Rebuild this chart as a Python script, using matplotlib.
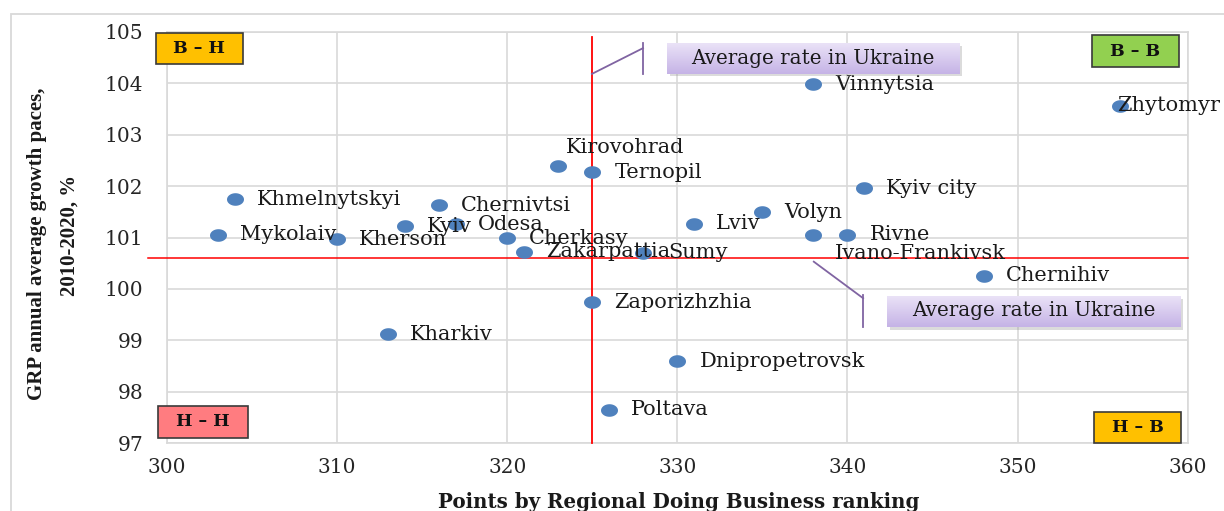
import matplotlib
matplotlib.use('Agg')
import matplotlib.pyplot as plt
import numpy as np
from matplotlib.path import Path
from matplotlib.patches import Rectangle
from matplotlib.colors import LinearSegmentedColormap

# ---------------- data ----------------
regions = ["Khmelnytskyi", "Mykolaiv", "Kherson", "Kyiv", "Chernivtsi", "Odesa",
           "Cherkasy", "Zakarpattia", "Kirovohrad", "Ternopil", "Sumy", "Lviv",
           "Volyn", "Vinnytsia", "Ivano-Frankivsk", "Rivne", "Kyiv city",
           "Chernihiv", "Zhytomyr", "Kharkiv", "Zaporizhzhia", "Dnipropetrovsk",
           "Poltava"]
business_points = [304, 303, 310, 314, 316, 317, 320, 321, 323, 325, 328, 331,
                   335, 338, 338, 340, 341, 348, 356, 313, 325, 330, 326]
grp_growth = [101.74, 101.05, 100.97, 101.22, 101.63, 101.26, 101.00, 100.72,
              102.39, 102.27, 100.70, 101.27, 101.49, 103.98, 101.05, 101.05,
              101.96, 100.26, 103.56, 99.12, 99.74, 98.59, 97.65]
avg_business = 325
avg_growth = 100.61
x_ticks = [300, 310, 320, 330, 340, 350, 360]
y_ticks = [97, 98, 99, 100, 101, 102, 103, 104, 105]
quadrant_labels = ["B – H", "B – B", "H – H", "H – B"]
callout_text = "Average rate in Ukraine"
x_title = "Points by Regional Doing Business ranking"
y_title = ["GRP annual average growth paces,", "2010-2020, %"]

# label offsets in pixels (dx, dy) for placement
default_off = (22, 0)
label_off = {"Kirovohrad": (8, 18), "Sumy": (25, 0), "Ivano-Frankivsk": (21, -19),
             "Zhytomyr": (-3, 0), "Cherkasy": (22, -1), "Kyiv": (22, 0)}

W, H = 1224, 511
DPI = 100
fig = plt.figure(figsize=(W / DPI, H / DPI), dpi=DPI)
fig.patch.set_facecolor('white')

left, right, top, bottom = 167, 1187.7, 31.7, 443.3
ax = fig.add_axes([left / W, 1 - bottom / H, (right - left) / W, (bottom - top) / H])

serif = ['DejaVu Serif']
txtc = '#1a1a1a'
gridc = '#D9D9D9'

# outer frame
fig.add_artist(Rectangle((11 / W, -0.1), 1.2, 1 - 14 / H + 0.1, transform=fig.transFigure,
                         fill=False, edgecolor=gridc, lw=1.3))

ax.set_xlim(300, 360)
ax.set_ylim(97, 105)
ax.set_xticks(x_ticks)
ax.set_yticks(y_ticks)
ax.set_xticklabels([str(v) for v in x_ticks], fontfamily=serif, fontsize=14.5, color='#262626')
ax.set_yticklabels([str(v) for v in y_ticks], fontfamily=serif, fontsize=14.5, color='#262626')
ax.tick_params(length=0)
ax.tick_params(axis='y', pad=17)
ax.tick_params(axis='x', pad=10.5)
ax.grid(True, color=gridc, lw=1.2, zorder=0)
ax.set_axisbelow(True)
for s in ax.spines.values():
    s.set_color(gridc)
    s.set_linewidth(1.2)

# ellipse marker (slightly wide)
t = np.linspace(0, 2 * np.pi, 40)
ell = Path(np.column_stack([1.35 * np.cos(t), np.sin(t)]), closed=True)
ax.scatter(business_points, grp_growth, marker=ell, s=150, color='#4F81BD', zorder=5,
           linewidths=0)

for name, xv, yv in zip(regions, business_points, grp_growth):
    dx, dy = label_off.get(name, default_off)
    ax.annotate(name, (xv, yv), xytext=(dx * 0.72, dy * 0.72), textcoords='offset points',
                ha='left', va='center', fontfamily=serif, fontsize=15, color=txtc, zorder=6)

# average lines
ax.plot([avg_business, avg_business], [97, 104.9], color='#FF0000', lw=1.3, zorder=4,
        clip_on=False)
ax.plot([298.9, 360], [avg_growth, avg_growth], color='#FF0000', lw=1.1, zorder=4,
        clip_on=False)

# callouts
cmap = LinearSegmentedColormap.from_list('lav', ['#EAE2F7', '#C5B3E6'])
grad = np.linspace(0, 1, 64).reshape(-1, 1)
purple = '#8064A2'

def callout(x0, x1, y0, y1, tx, ty, leader):
    # shadow
    ax.add_patch(Rectangle((x0 + 0.15, y0 - 0.05), x1 - x0, y1 - y0, color='#999999',
                           alpha=0.35, lw=0, zorder=6, clip_on=False))
    ax.imshow(grad, extent=(x0, x1, y0, y1), cmap=cmap, aspect='auto', zorder=7,
              origin='upper', clip_on=False)
    ax.text(tx, ty, callout_text, ha='center', va='center', fontfamily=serif,
            fontsize=14.3, color=txtc, zorder=8)
    (lx0, ly0), (lx1, ly1), (bx, by0, by1) = leader
    ax.plot([lx0, lx1], [ly0, ly1], color=purple, lw=1.3, zorder=7, clip_on=False)
    ax.plot([bx, bx], [by0, by1], color=purple, lw=1.3, zorder=7, clip_on=False)

callout(329.4, 346.6, 104.18, 104.78, 337.97, 104.48,
        ((324.98, 104.18), (327.98, 104.68), (327.98, 104.79, 104.18)))
callout(342.35, 359.6, 99.26, 99.86, 350.94, 99.58,
        ((338.02, 100.53), (340.92, 99.82), (340.92, 99.88, 99.26)))
ax.set_xlim(300, 360)
ax.set_ylim(97, 105)

# quadrant boxes (axes fraction)
qboxes = [(-0.0108, 0.0742, 0.9208, 0.9976, '#FFC000'),
          (0.9063, 0.9915, 0.9135, 0.9920, '#92D050'),
          (-0.0091, 0.0789, 0.0136, 0.0913, '#FF7C80'),
          (0.9082, 0.9934, 0.0000, 0.0768, '#FFC000')]
for lab, (x0, x1, y0, y1, col) in zip(quadrant_labels, qboxes):
    ax.add_patch(Rectangle((x0, y0), x1 - x0, y1 - y0, transform=ax.transAxes,
                           facecolor=col, edgecolor='#3a3a3a', lw=1.2, zorder=9,
                           clip_on=False))
    ax.text((x0 + x1) / 2, (y0 + y1) / 2, lab, transform=ax.transAxes, ha='center',
            va='center', fontfamily=serif, fontweight='bold', fontsize=12.5,
            color='#111111', zorder=10)

# axis titles
fig.text(679 / W, 1 - 501.7 / H, x_title, ha='center', va='center', fontfamily=serif,
         fontweight='bold', fontsize=14.3, color=txtc)
fig.text(37 / W, 1 - 244 / H, y_title[0], ha='center', va='center', rotation=90,
         fontfamily=['Liberation Serif'], fontweight='bold', fontsize=15, color=txtc)
fig.text(70 / W, 1 - 235 / H, y_title[1], ha='center', va='center', rotation=90,
         fontfamily=['Liberation Serif'], fontweight='bold', fontsize=15, color=txtc)

fig.savefig('out.png', dpi=DPI)
